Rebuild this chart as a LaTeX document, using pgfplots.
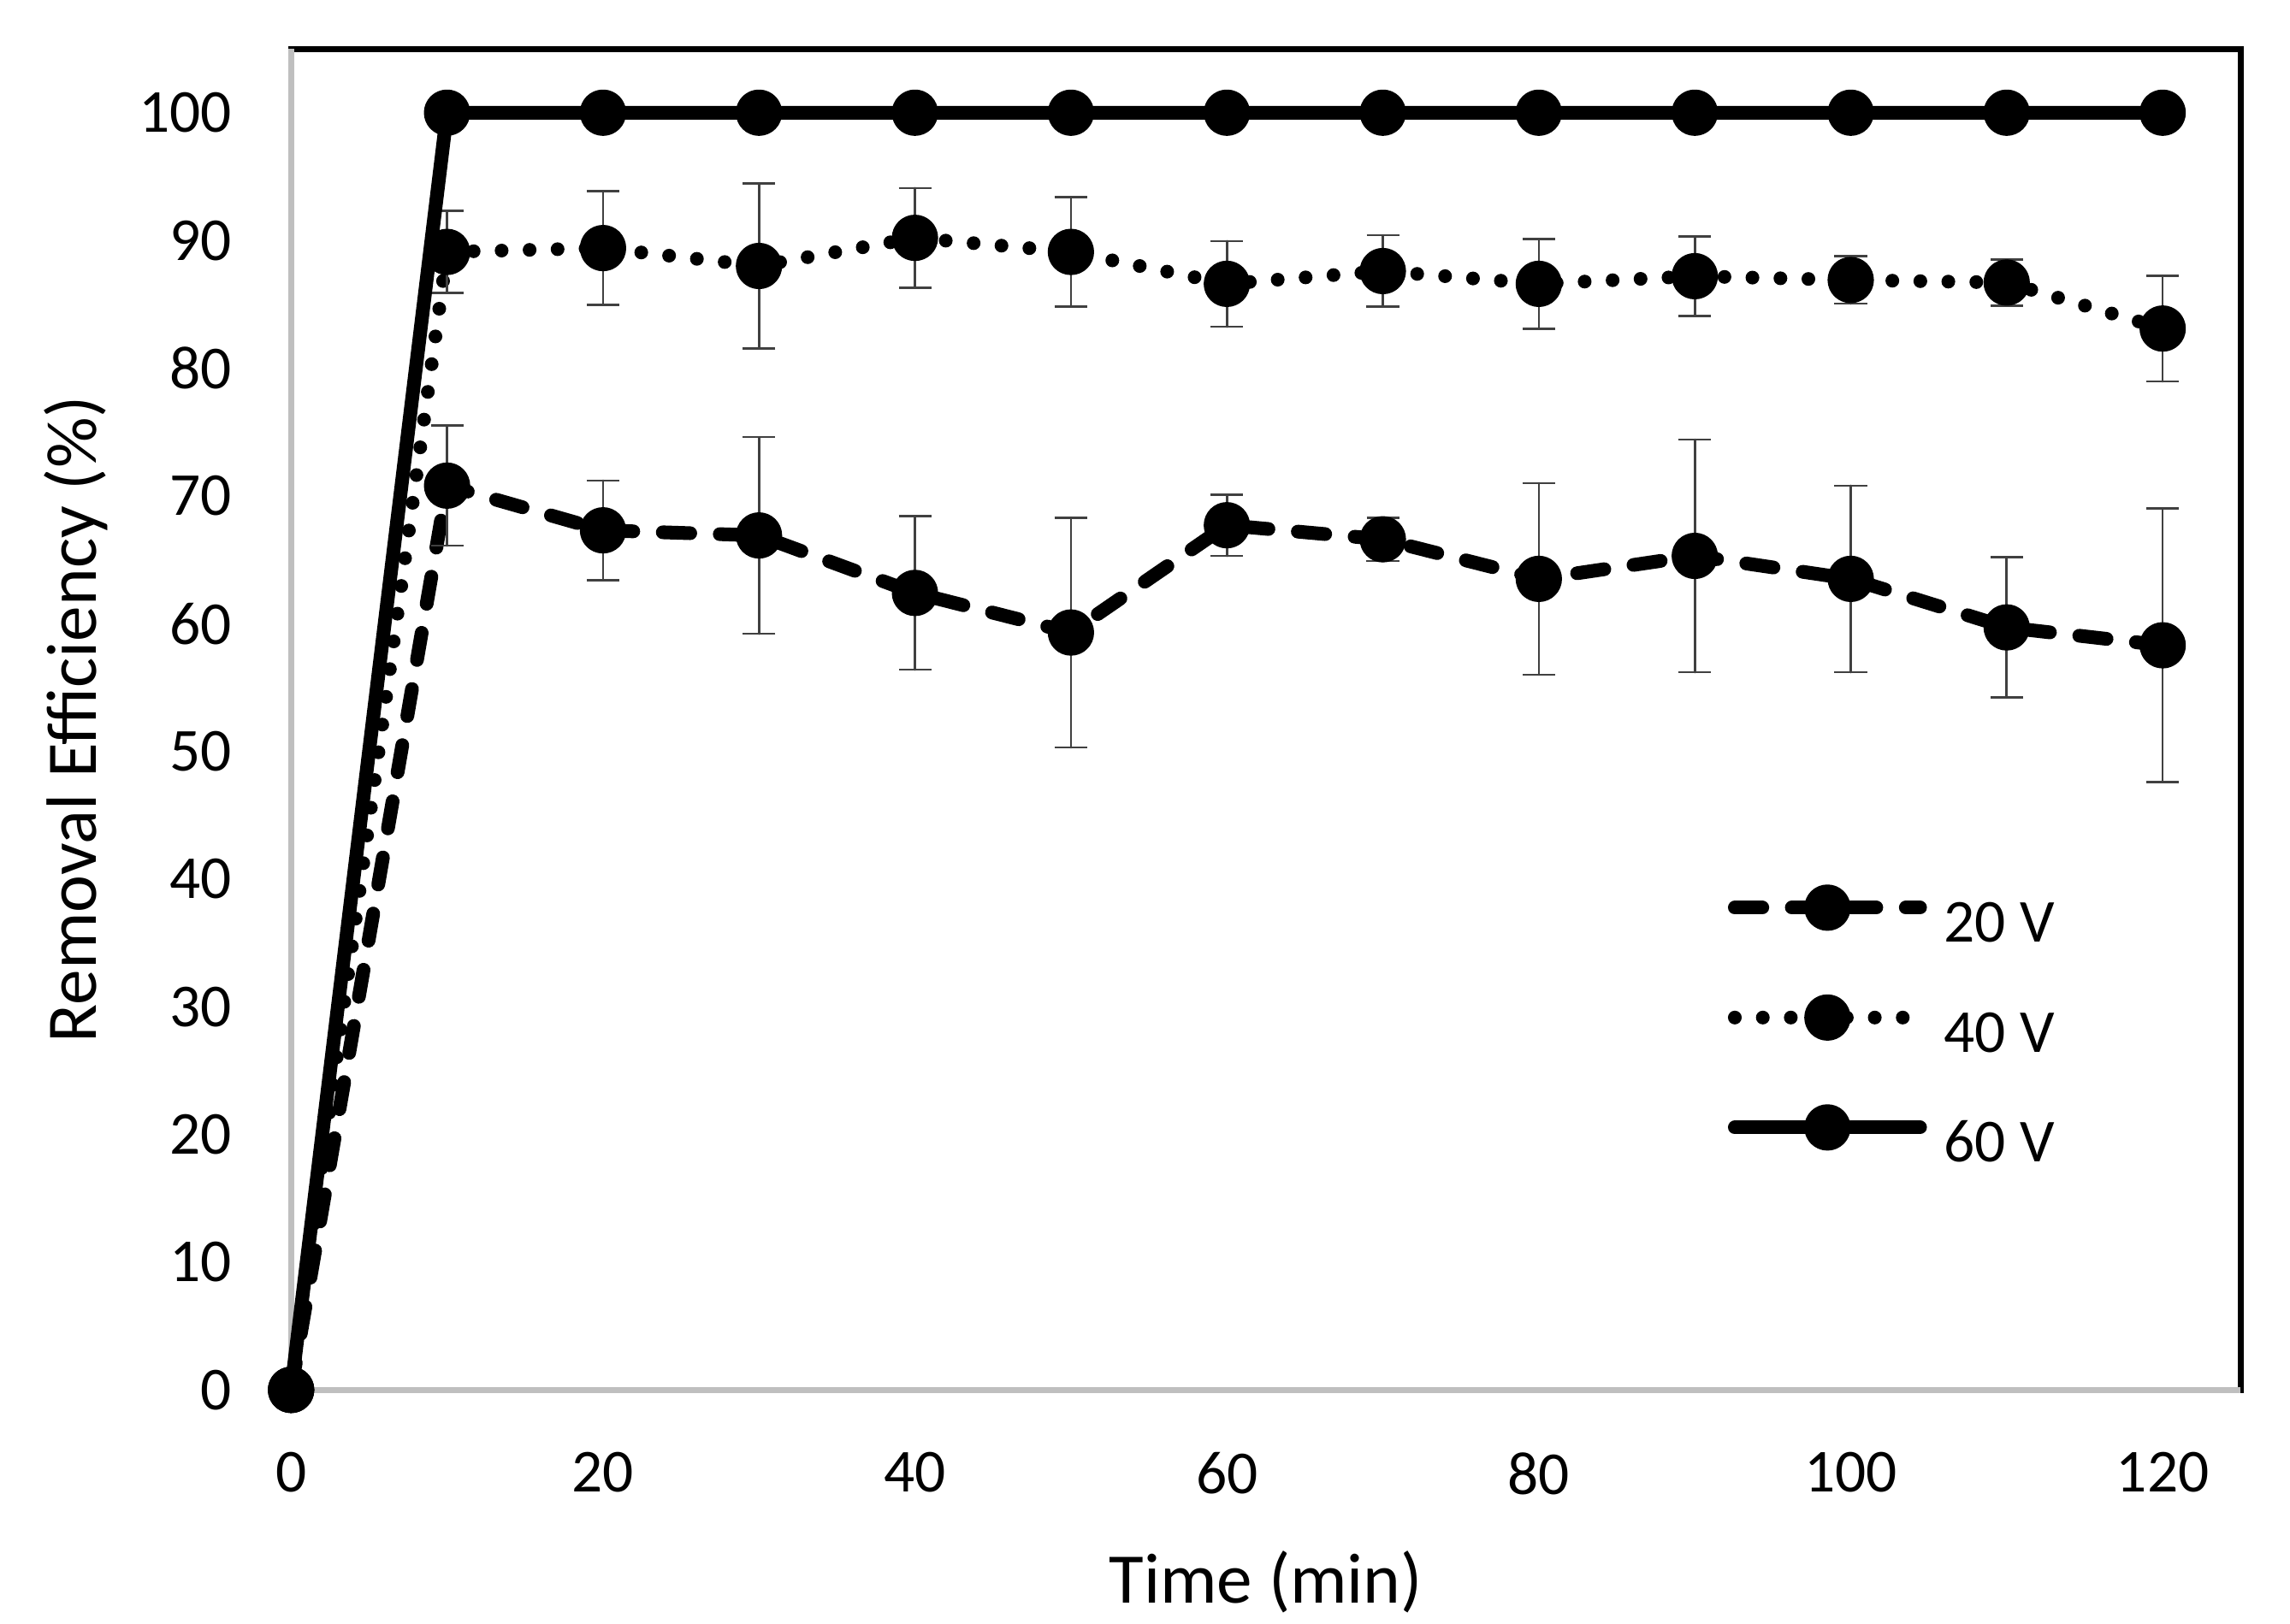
\documentclass[border=0pt]{standalone}
\usepackage{fontspec}
\setmainfont{Carlito}
\usepackage{pgfplots}
\pgfplotsset{compat=1.18}
\usepackage{pgfplotstable}
\definecolor{axgray}{HTML}{BFBFBF}
\definecolor{errgray}{HTML}{404040}

\pgfplotstableread{
x y e
0 0 0
10 70.8 4.7
20 67.3 3.9
30 66.9 7.7
40 62.4 6.0
50 59.3 9.0
60 67.7 2.4
70 66.6 1.7
80 63.5 7.5
90 65.3 9.1
100 63.5 7.3
110 59.7 5.5
120 58.3 10.7
}\vtwenty

\pgfplotstableread{
x y e
0 0 0
10 89.1 3.2
20 89.4 4.45
30 88.0 6.45
40 90.2 3.9
50 89.1 4.3
60 86.6 3.35
70 87.6 2.8
80 86.6 3.5
90 87.2 3.1
100 86.9 1.85
110 86.7 1.8
120 83.1 4.15
}\vforty

\pgfplotstableread{
x y
0 0
10 100
20 100
30 100
40 100
50 100
60 100
70 100
80 100
90 100
100 100
110 100
120 100
}\vsixty

\begin{document}
\begin{tikzpicture}
\begin{axis}[
  scale only axis,
  width=383.1pt, height=263.6pt,
  xmin=0, xmax=125, ymin=0, ymax=105,
  xtick={0,20,...,120}, ytick={0,10,...,100},
  major tick length=0pt,
  clip=false,
  axis line style={black, line width=1.2pt},
  /pgf/number format/assume math mode=true,
  tick label style={font=\fontsize{12}{14.4}\selectfont, inner sep=0pt},
  yticklabel style={xshift=-11.5pt},
  xticklabel style={yshift=-12.1pt},
  xlabel={Time (min)},
  ylabel={Removal Efficiency (\%)},
  every axis x label/.style={at={([yshift=-37.7pt]rel axis cs:0.5,0)}, anchor=center, font=\fontsize{14}{16.8}\selectfont},
  every axis y label/.style={at={([xshift=-42.2pt]rel axis cs:0,0.5)}, anchor=center, rotate=90, font=\fontsize{14}{16.8}\selectfont},
  legend style={draw=none, fill=none, inner sep=0pt, at={(0.7365,0.3725)}, anchor=north west,
    nodes={inner sep=0pt, text height=9pt, text depth=3pt}, row sep=8.6pt, column sep=3.4pt,
    font=\fontsize{12}{14.4}\selectfont},
  legend cell align=left,
  legend image code/.code={\draw[mark repeat=2,mark phase=2,#1] plot coordinates {(0pt,3.8pt) (18.2pt,3.8pt) (36.4pt,3.8pt)};},
  every axis plot/.append style={black, line width=2.7pt, line cap=round, line join=round,
    mark=*, mark size=3.2pt, mark options={solid, fill=black}},
  error bars/error bar style={errgray, line width=0.45pt, solid},
  error bars/error mark options={rotate=90, mark size=3.2pt, errgray, line width=0.45pt, solid},
]
\draw[axgray, line width=1.1pt] (rel axis cs:0,1) -- (rel axis cs:0,0) -- (rel axis cs:1,0);
\addplot[dash pattern=on 5.4pt off 5.8pt, error bars/.cd, y dir=both, y explicit] table[x=x, y=y, y error=e] {\vtwenty};
\addlegendentry{20 V}
\addplot[dash pattern=on 0pt off 5.5pt, error bars/.cd, y dir=both, y explicit] table[x=x, y=y, y error=e] {\vforty};
\addlegendentry{40 V}
\addplot[solid] table[x=x, y=y] {\vsixty};
\addlegendentry{60 V}
\end{axis}
\pgfresetboundingbox
\path ([shift={(-57.2pt,-45.9pt)}]current axis.south west) rectangle ([shift={(9.7pt,9.6pt)}]current axis.north east);
\end{tikzpicture}
\end{document}
